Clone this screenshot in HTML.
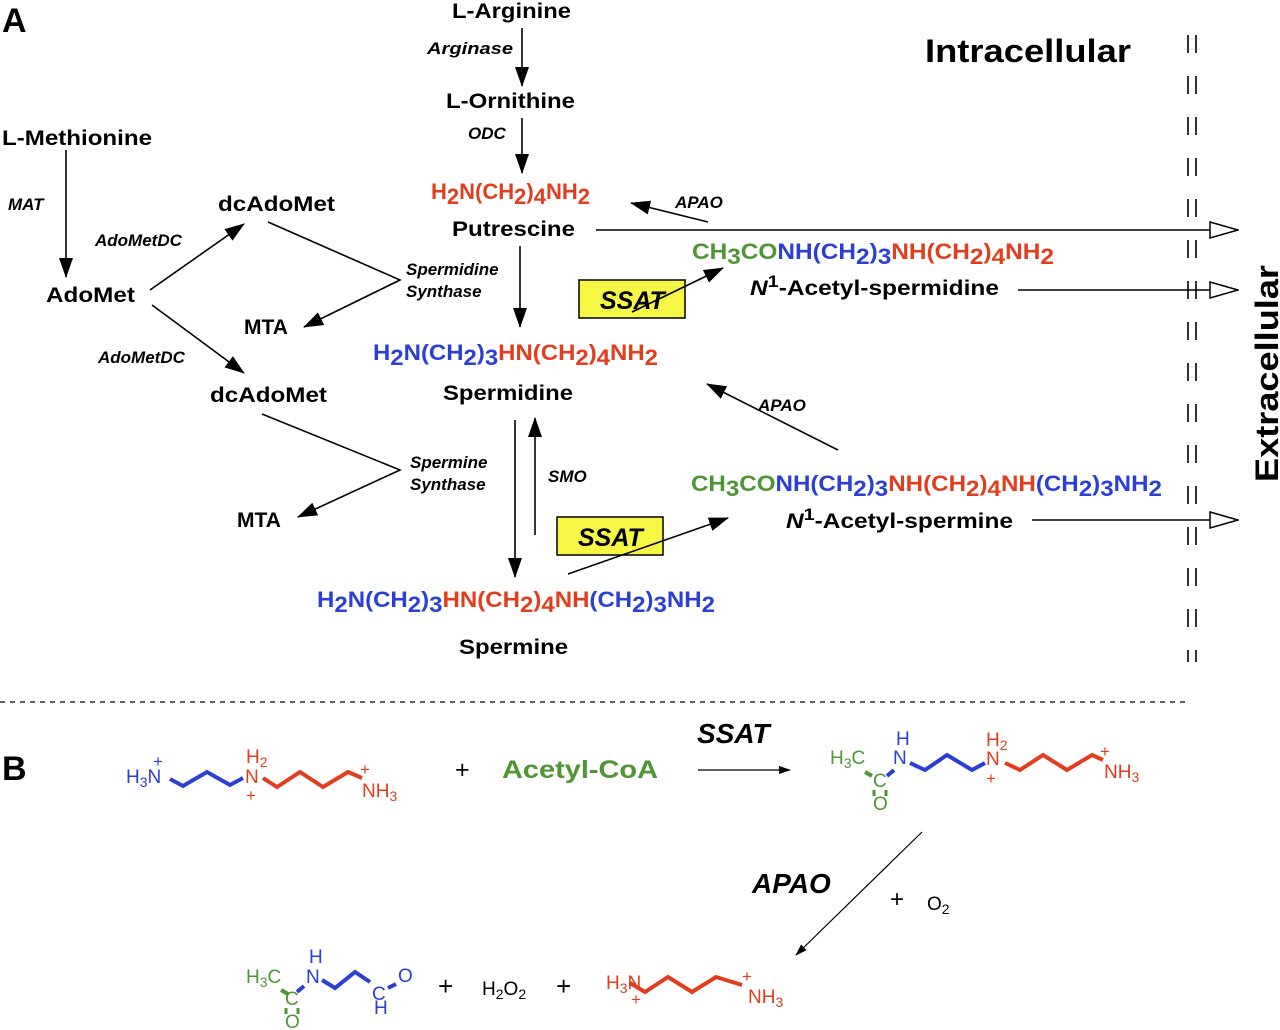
<!DOCTYPE html>
<html><head><meta charset="utf-8"><style>
html,body{margin:0;padding:0;background:#fff}
svg{display:block}
text{font-family:"Liberation Sans",Arial,sans-serif}
.b{font-weight:bold;font-size:21px;fill:#000}
.e{font-weight:bold;font-style:italic;font-size:17px;fill:#000}
.r{fill:#e23d1c}.u{fill:#2b3fd6}.g{fill:#4e9534}
.f{font-weight:bold;font-size:22px}
.m{font-size:19px}
</style></head><body>
<svg width="1280" height="1030" viewBox="0 0 1280 1030" xmlns="http://www.w3.org/2000/svg">
<defs>
<marker id="a" viewBox="0 0 20 14" refX="19" refY="7" markerWidth="20" markerHeight="14" markerUnits="userSpaceOnUse" orient="auto"><path d="M0,0 L20,7 L0,14 z" fill="#000"/></marker>
<marker id="o" viewBox="0 0 30 20" refX="29" refY="10" markerWidth="30" markerHeight="20" markerUnits="userSpaceOnUse" orient="auto"><path d="M1,2 L29,10 L1,18 z" fill="#fff" stroke="#000" stroke-width="1.5"/></marker>
<marker id="s" viewBox="0 0 12 8" refX="11" refY="4" markerWidth="12" markerHeight="8" markerUnits="userSpaceOnUse" orient="auto"><path d="M0,0 L12,4 L0,8 z" fill="#000"/></marker>
</defs>
<rect x="579" y="280" width="106" height="38" fill="#f6f645" stroke="#000" stroke-width="1.5"/>
<rect x="557" y="517" width="106" height="38" fill="#f6f645" stroke="#000" stroke-width="1.5"/>
<text x="600" y="309" style="font-weight:bold;font-style:italic;font-size:25px">SSAT</text>
<text x="578" y="546" style="font-weight:bold;font-style:italic;font-size:25px">SSAT</text>
<g stroke="#000" stroke-width="1.6" fill="none">
<line x1="522" y1="28" x2="522" y2="86" marker-end="url(#a)"/>
<line x1="522" y1="118" x2="522" y2="173" marker-end="url(#a)"/>
<line x1="520" y1="246" x2="520" y2="327" marker-end="url(#a)"/>
<line x1="66" y1="150" x2="66" y2="277" marker-end="url(#a)"/>
<line x1="150" y1="290" x2="244" y2="224" marker-end="url(#a)"/>
<line x1="152" y1="305" x2="244" y2="373" marker-end="url(#a)"/>
<polyline points="268,222 400,280 304,327" marker-end="url(#a)"/>
<polyline points="262,414 400,470 298,517" marker-end="url(#a)"/>
<line x1="515" y1="420" x2="515" y2="577" marker-end="url(#a)"/>
<line x1="535" y1="535" x2="535" y2="418" marker-end="url(#a)"/>
<line x1="632" y1="312" x2="723" y2="268" marker-end="url(#a)"/>
<line x1="568" y1="574" x2="728" y2="518" marker-end="url(#a)"/>
<line x1="708" y1="222" x2="631" y2="203" marker-end="url(#a)"/>
<line x1="838" y1="450" x2="707" y2="384" marker-end="url(#a)"/>
<line x1="596" y1="230" x2="1238" y2="230" marker-end="url(#o)"/>
<line x1="1018" y1="290" x2="1238" y2="290" marker-end="url(#o)"/>
<line x1="1032" y1="520" x2="1238" y2="520" marker-end="url(#o)"/>
<line x1="1188" y1="35" x2="1188" y2="662" stroke-dasharray="18,23"/>
<line x1="1196" y1="35" x2="1196" y2="662" stroke-dasharray="18,23"/>
<line x1="0" y1="702" x2="1190" y2="702" stroke-dasharray="5,5" stroke-width="1.3"/>
<line x1="698" y1="770" x2="790" y2="770" stroke-width="1.2" marker-end="url(#s)"/>
<line x1="922" y1="832" x2="796" y2="955" stroke-width="1.2" marker-end="url(#s)"/>
</g>

<text x="2" y="32" style="font-weight:bold;font-size:34px">A</text>
<text x="2" y="780" style="font-weight:bold;font-size:34px">B</text>
<text x="925" y="62" style="font-weight:bold;font-size:32px" textLength="206" lengthAdjust="spacingAndGlyphs">Intracellular</text>
<text transform="translate(1278,482) rotate(-90)" style="font-weight:bold;font-size:32px" textLength="217" lengthAdjust="spacingAndGlyphs">Extracellular</text>

<text class="b" x="452" y="18" textLength="119" lengthAdjust="spacingAndGlyphs">L-Arginine</text>
<text class="e" x="427" y="54" textLength="86" lengthAdjust="spacingAndGlyphs">Arginase</text>
<text class="b" x="446" y="108" textLength="129" lengthAdjust="spacingAndGlyphs">L-Ornithine</text>
<text class="e" x="468" y="139">ODC</text>
<text class="f r" x="431" y="199">H<tspan dy="5">2</tspan><tspan dy="-5">N(CH</tspan><tspan dy="5">2</tspan><tspan dy="-5">)</tspan><tspan dy="5">4</tspan><tspan dy="-5">NH</tspan><tspan dy="5">2</tspan></text>
<text class="b" x="452" y="236" textLength="123" lengthAdjust="spacingAndGlyphs">Putrescine</text>
<text class="e" x="675" y="208">APAO</text>
<text class="b" x="2" y="145" textLength="150" lengthAdjust="spacingAndGlyphs">L-Methionine</text>
<text class="e" x="8" y="210">MAT</text>
<text class="b" x="46" y="302" textLength="89" lengthAdjust="spacingAndGlyphs">AdoMet</text>
<text class="e" x="95" y="246">AdoMetDC</text>
<text class="e" x="98" y="363">AdoMetDC</text>
<text class="b" x="218" y="211" textLength="117" lengthAdjust="spacingAndGlyphs">dcAdoMet</text>
<text class="b" x="210" y="402" textLength="117" lengthAdjust="spacingAndGlyphs">dcAdoMet</text>
<text class="e" x="406" y="275">Spermidine</text>
<text class="e" x="406" y="297">Synthase</text>
<text class="e" x="410" y="468">Spermine</text>
<text class="e" x="410" y="490">Synthase</text>
<text class="b" x="244" y="334">MTA</text>
<text class="b" x="237" y="527">MTA</text>
<text class="e" x="548" y="482">SMO</text>
<text class="e" x="758" y="411">APAO</text>

<text class="f" x="373" y="360" textLength="285" lengthAdjust="spacingAndGlyphs"><tspan class="u">H</tspan><tspan class="u" dy="5">2</tspan><tspan class="u" dy="-5">N(CH</tspan><tspan class="u" dy="5">2</tspan><tspan class="u" dy="-5">)</tspan><tspan class="u" dy="5">3</tspan><tspan class="r" dy="-5">HN(CH</tspan><tspan class="r" dy="5">2</tspan><tspan class="r" dy="-5">)</tspan><tspan class="r" dy="5">4</tspan><tspan class="r" dy="-5">NH</tspan><tspan class="r" dy="5">2</tspan></text>
<text class="b" x="443" y="400" textLength="130" lengthAdjust="spacingAndGlyphs">Spermidine</text>
<text class="f" x="317" y="607" textLength="398" lengthAdjust="spacingAndGlyphs"><tspan class="u">H</tspan><tspan class="u" dy="5">2</tspan><tspan class="u" dy="-5">N(CH</tspan><tspan class="u" dy="5">2</tspan><tspan class="u" dy="-5">)</tspan><tspan class="u" dy="5">3</tspan><tspan class="r" dy="-5">HN(CH</tspan><tspan class="r" dy="5">2</tspan><tspan class="r" dy="-5">)</tspan><tspan class="r" dy="5">4</tspan><tspan class="r" dy="-5">NH</tspan><tspan class="u">(CH</tspan><tspan class="u" dy="5">2</tspan><tspan class="u" dy="-5">)</tspan><tspan class="u" dy="5">3</tspan><tspan class="u" dy="-5">NH</tspan><tspan class="u" dy="5">2</tspan></text>
<text class="b" x="459" y="654" textLength="109" lengthAdjust="spacingAndGlyphs">Spermine</text>

<text class="f" x="692" y="259" textLength="362" lengthAdjust="spacingAndGlyphs"><tspan class="g">CH</tspan><tspan class="g" dy="5">3</tspan><tspan class="g" dy="-5">CO</tspan><tspan class="u">NH(CH</tspan><tspan class="u" dy="5">2</tspan><tspan class="u" dy="-5">)</tspan><tspan class="u" dy="5">3</tspan><tspan class="r" dy="-5">NH(CH</tspan><tspan class="r" dy="5">2</tspan><tspan class="r" dy="-5">)</tspan><tspan class="r" dy="5">4</tspan><tspan class="r" dy="-5">NH</tspan><tspan class="r" dy="5">2</tspan></text>
<text class="b" x="750" y="295" textLength="249" lengthAdjust="spacingAndGlyphs"><tspan font-style="italic">N</tspan><tspan dy="-8" font-size="17">1</tspan><tspan dy="8">-Acetyl-spermidine</tspan></text>
<text class="f" x="691" y="491" textLength="471" lengthAdjust="spacingAndGlyphs"><tspan class="g">CH</tspan><tspan class="g" dy="5">3</tspan><tspan class="g" dy="-5">CO</tspan><tspan class="u">NH(CH</tspan><tspan class="u" dy="5">2</tspan><tspan class="u" dy="-5">)</tspan><tspan class="u" dy="5">3</tspan><tspan class="r" dy="-5">NH(CH</tspan><tspan class="r" dy="5">2</tspan><tspan class="r" dy="-5">)</tspan><tspan class="r" dy="5">4</tspan><tspan class="r" dy="-5">NH</tspan><tspan class="u">(CH</tspan><tspan class="u" dy="5">2</tspan><tspan class="u" dy="-5">)</tspan><tspan class="u" dy="5">3</tspan><tspan class="u" dy="-5">NH</tspan><tspan class="u" dy="5">2</tspan></text>
<text class="b" x="786" y="528" textLength="227" lengthAdjust="spacingAndGlyphs"><tspan font-style="italic">N</tspan><tspan dy="-8" font-size="17">1</tspan><tspan dy="8">-Acetyl-spermine</tspan></text>

<!-- Part B -->
<g stroke-width="4" fill="none" stroke-linejoin="miter">
<polyline points="170,779 183,786 207,772 230,785 243,778" stroke="#2b3fd6"/>
<polyline points="263,778 277,787 300,772 323,787 348,772 362,778" stroke="#e23d1c"/>
<polyline points="910,763 925,770 947,755 972,770 985,763" stroke="#2b3fd6"/>
<polyline points="1005,763 1020,770 1043,755 1067,770 1092,755 1103,760" stroke="#e23d1c"/>
<polyline points="322,980 335,988 355,972 370,982" stroke="#2b3fd6"/>
<polyline points="630,983 645,992 668,977 692,992 716,977 742,985" stroke="#e23d1c"/>
<line x1="865" y1="772" x2="872" y2="776" stroke="#4e9534"/>
<line x1="887" y1="776" x2="894" y2="770" stroke="#2b3fd6"/>
<line x1="281" y1="990" x2="288" y2="994" stroke="#4e9534"/>
<line x1="297" y1="992" x2="304" y2="986" stroke="#2b3fd6"/>
<line x1="388" y1="988" x2="396" y2="984" stroke="#2b3fd6"/>
</g>
<g stroke="#4e9534" stroke-width="3">
<line x1="874" y1="790" x2="874" y2="796"/><line x1="886" y1="790" x2="886" y2="796"/>
<line x1="286" y1="1008" x2="286" y2="1014"/><line x1="298" y1="1008" x2="298" y2="1014"/>
</g>
<g class="m">
<text class="u" x="126" y="783">H<tspan font-size="14" dy="4">3</tspan><tspan dy="-4">N</tspan></text>
<text class="u" x="153" y="767" font-size="17">+</text>
<text class="r" x="245" y="783">N</text>
<text class="r" x="246" y="763">H<tspan font-size="14" dy="4">2</tspan></text>
<text class="r" x="246" y="801" font-size="17">+</text>
<text class="r" x="362" y="797">NH<tspan font-size="14" dy="4">3</tspan></text>
<text class="r" x="360" y="775" font-size="17">+</text>
<text x="455" y="778" font-size="25">+</text>
<text class="g" x="502" y="778" font-size="25" font-weight="bold" textLength="156" lengthAdjust="spacingAndGlyphs">Acetyl-CoA</text>
<text x="697" y="743" style="font-weight:bold;font-style:italic;font-size:28px">SSAT</text>

<text class="g" x="830" y="764">H<tspan font-size="14" dy="4">3</tspan><tspan dy="-4">C</tspan></text>
<text class="g" x="873" y="787">C</text>
<text class="g" x="873" y="810">O</text>
<text class="u" x="893" y="764">N</text>
<text class="u" x="896" y="745">H</text>
<text class="r" x="986" y="765">N</text>
<text class="r" x="986" y="746">H<tspan font-size="14" dy="4">2</tspan></text>
<text class="r" x="986" y="784" font-size="17">+</text>
<text class="r" x="1104" y="778">NH<tspan font-size="14" dy="4">3</tspan></text>
<text class="r" x="1100" y="757" font-size="17">+</text>

<text x="752" y="893" style="font-weight:bold;font-style:italic;font-size:28px">APAO</text>
<text x="890" y="907" font-size="24">+</text>
<text x="927" y="910">O<tspan font-size="14" dy="4">2</tspan></text>

<text class="g" x="246" y="983">H<tspan font-size="14" dy="4">3</tspan><tspan dy="-4">C</tspan></text>
<text class="g" x="285" y="1005">C</text>
<text class="g" x="285" y="1028">O</text>
<text class="u" x="306" y="983">N</text>
<text class="u" x="309" y="963">H</text>
<text class="u" x="372" y="1000">C</text>
<text class="u" x="398" y="982">O</text>
<text class="u" x="374" y="1014">H</text>
<text x="438" y="995" font-size="26">+</text>
<text x="482" y="995">H<tspan font-size="14" dy="4">2</tspan><tspan dy="-4">O</tspan><tspan font-size="14" dy="4">2</tspan></text>
<text x="556" y="995" font-size="26">+</text>
<text class="r" x="606" y="989">H<tspan font-size="14" dy="4">3</tspan><tspan dy="-4">N</tspan></text>
<text class="r" x="631" y="1005" font-size="17">+</text>
<text class="r" x="748" y="1003">NH<tspan font-size="14" dy="4">3</tspan></text>
<text class="r" x="742" y="982" font-size="17">+</text>
</g>
</svg>
</body></html>
